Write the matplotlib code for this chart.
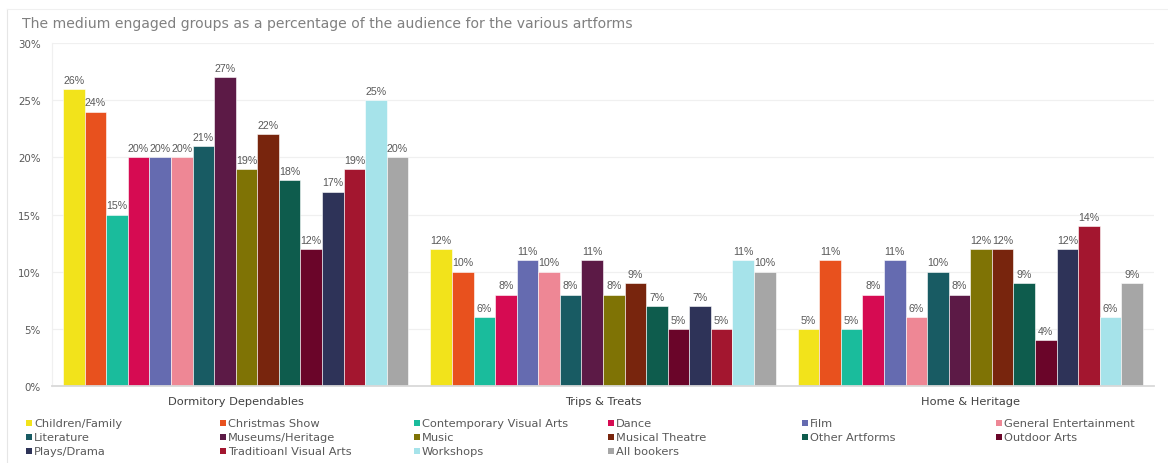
import matplotlib
matplotlib.use("Agg")
import matplotlib.pyplot as plt
import numpy as np
from matplotlib.patches import Rectangle
from matplotlib.lines import Line2D

# Audience segments (x-axis groups)
segments = ["Dormitory Dependables", "Trips & Treats", "Home & Heritage"]

# Artforms (series) and their colours
artforms = [
    "Children/Family", "Christmas Show", "Contemporary Visual Arts", "Dance",
    "Film", "General Entertainment", "Literature", "Museums/Heritage",
    "Music", "Musical Theatre", "Other Artforms", "Outdoor Arts",
    "Plays/Drama", "Traditioanl Visual Arts", "Workshops", "All bookers",
]
colors = [
    "#F2E31B", "#E8511E", "#1ABC9C", "#D60B52",
    "#656BB0", "#EE8795", "#185B63", "#5C1A46",
    "#7F7305", "#78250D", "#0E5C4D", "#6A0529",
    "#2E3358", "#A3162F", "#A6E3EA", "#A6A6A6",
]

# Percentage of each segment's audience, per artform
dormitory_dependables = [26, 24, 15, 20, 20, 20, 21, 27, 19, 22, 18, 12, 17, 19, 25, 20]
trips_and_treats = [12, 10, 6, 8, 11, 10, 8, 11, 8, 9, 7, 5, 7, 5, 11, 10]
home_and_heritage = [5, 11, 5, 8, 11, 6, 10, 8, 12, 12, 9, 4, 12, 14, 6, 9]

y_ticks = [0, 5, 10, 15, 20, 25, 30]

values = np.array([dormitory_dependables, trips_and_treats, home_and_heritage])

W, H = 1168, 464
fig = plt.figure(figsize=(W / 100, H / 100), dpi=100)
fig.patch.set_facecolor("white")

ax = fig.add_axes([52 / W, 1 - 387 / H, (1154 - 52) / W, (387 - 44) / H])

n_series = len(artforms)
group_span = 0.94
bar_w = group_span / n_series
x = np.arange(len(segments))

label_color = "#595959"
for i, (name, col) in enumerate(zip(artforms, colors)):
    pos = x - group_span / 2 + bar_w * (i + 0.5)
    vals = values[:, i]
    ax.bar(pos, vals, width=bar_w, color=col, edgecolor="white",
           linewidth=0.4, zorder=3)
    for px, v in zip(pos, vals):
        ax.annotate(f"{v}%", (px, v), xytext=(0, 3), textcoords="offset points",
                    ha="center", va="bottom", fontsize=7.7,
                    family="Liberation Sans", color=label_color)

ax.set_xlim(-0.5, len(segments) - 0.5)
ax.set_ylim(0, 30)
ax.set_yticks(y_ticks)
ax.set_yticklabels([f"{t}%" for t in y_ticks])
ax.set_xticks(x)
ax.set_xticklabels(segments)
ax.tick_params(axis="y", length=0, pad=8, labelsize=7.4, labelcolor=label_color)
ax.tick_params(axis="x", length=0, pad=7, labelsize=8.2, labelcolor="#404040")
ax.grid(axis="y", color="#F0F0F0", linewidth=0.9, zorder=0)
for s in ["top", "right"]:
    ax.spines[s].set_visible(False)
ax.spines["left"].set_color("#F0F0F0")
ax.spines["left"].set_linewidth(0.9)
ax.spines["bottom"].set_color("#D9D9D9")
ax.spines["bottom"].set_linewidth(1.3)
ax.spines["bottom"].set_zorder(4)

# Title
fig.text(22 / W, 1 - 24 / H, "The medium engaged groups as a percentage of the audience for the various artforms",
         ha="left", va="center", fontsize=10.1, color="#808080")

# Container frame
fig.add_artist(Line2D([7 / W, 7 / W], [0, 1 - 10 / H], transform=fig.transFigure,
                      color="#E6E6E6", linewidth=0.8))
fig.add_artist(Line2D([7 / W, 1], [1 - 10 / H, 1 - 10 / H], transform=fig.transFigure,
                      color="#F0F0F0", linewidth=0.8))

# Legend, filled row by row in six columns
col_x0, col_dx = 26, 194
row_y0, row_dy = 424, 14
sq = 6
for i, (name, col) in enumerate(zip(artforms, colors)):
    r, c = divmod(i, 6)
    mx = col_x0 + c * col_dx
    my = row_y0 + r * row_dy
    fig.add_artist(Rectangle((mx / W, 1 - (my + sq / 2) / H), sq / W, sq / H,
                             transform=fig.transFigure, facecolor=col, edgecolor="none"))
    fig.text((mx + sq + 2) / W, 1 - my / H, name, ha="left", va="center",
             fontsize=8.2, color=label_color)

fig.savefig("out.png", dpi=100, facecolor="white")
